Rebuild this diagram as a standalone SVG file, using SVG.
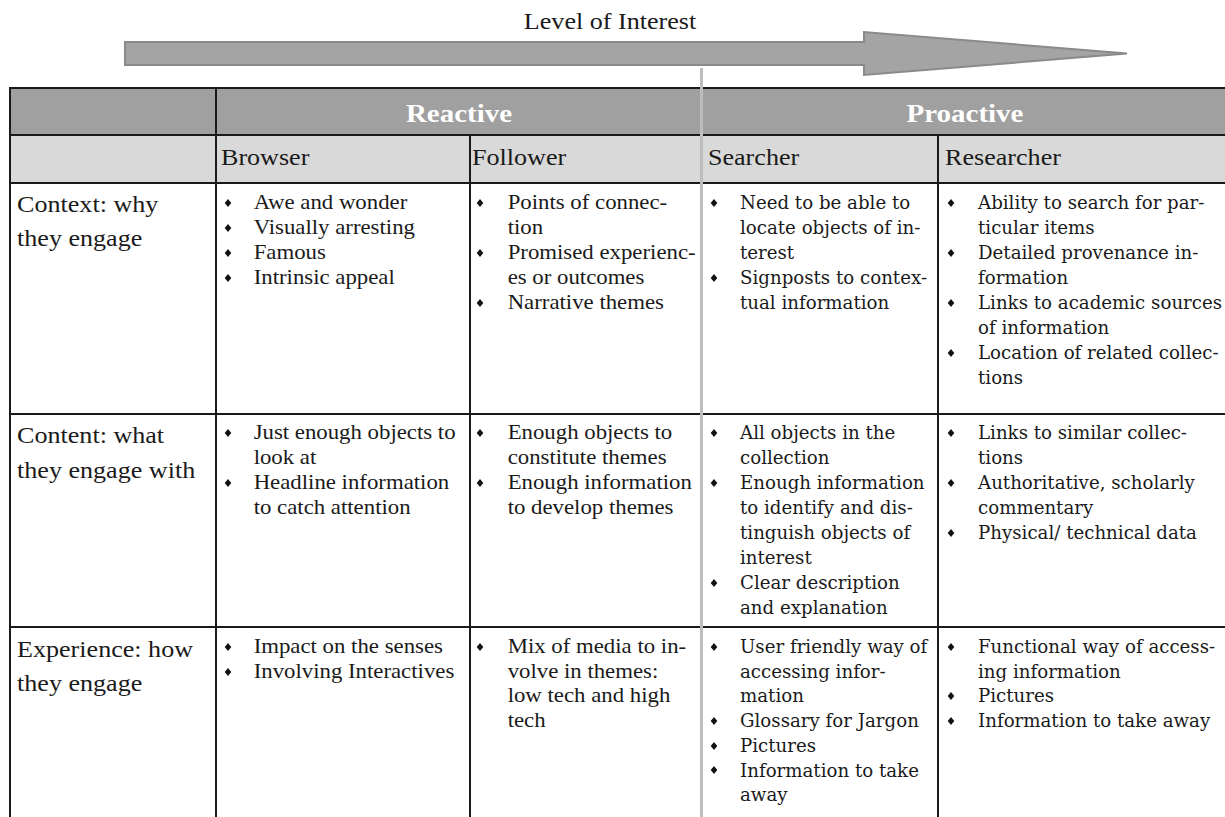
<svg xmlns="http://www.w3.org/2000/svg" width="1225" height="817" viewBox="0 0 1225 817">
<style>
.lt{font-family:"Liberation Serif","Times New Roman",serif;fill:#1a1a1a}
.lbl{font-size:22.5px}
.bl{font-size:20px}
.hd{font-size:22.5px}
.grp{font-size:25px;font-weight:bold;fill:#ffffff}
.rt{font-family:"DejaVu Serif",serif;font-size:18.2px;fill:#1a1a1a}
.grid line{stroke:#1a1a1a;stroke-width:2}
.bul{fill:#111}
</style>
<defs>
<path id="dia" d="M0,-4 L3.3,0 L0,4 L-3.3,0 Z"/>
</defs>
<rect width="1225" height="817" fill="#ffffff"/>

<g id="interest-arrow">
<polygon points="125,42 864,42 864,32 1127,53.5 864,75 864,65 125,65" fill="#a4a4a4" stroke="#8a8a8a" stroke-width="2"/>
<text class="lt hd" transform="scale(1.16 1)" x="525.9" y="29" text-anchor="middle">Level of Interest</text>
</g>

<g id="header-fills">
<rect x="10" y="88" width="1215" height="47" fill="#a0a0a0"/>
<rect x="10" y="135" width="1215" height="48" fill="#d9d9d9"/>
</g>

<g id="grid" class="grid">
<line x1="10" y1="88" x2="1225" y2="88"/>
<line x1="10" y1="135" x2="1225" y2="135"/>
<line x1="10" y1="183" x2="1225" y2="183"/>
<line x1="10" y1="414" x2="1225" y2="414"/>
<line x1="10" y1="627" x2="1225" y2="627"/>
<line x1="10" y1="87" x2="10" y2="817"/>
<line x1="216" y1="87" x2="216" y2="817"/>
<line x1="470" y1="135" x2="470" y2="817"/>
<line x1="938" y1="135" x2="938" y2="817"/>
</g>

<g id="group-headers">
<text class="lt grp" transform="scale(1.16 1)" x="395.7" y="122" text-anchor="middle">Reactive</text>
<text class="lt grp" transform="scale(1.16 1)" x="831.9" y="122" text-anchor="middle">Proactive</text>
</g>

<g id="column-headers" class="lt hd">
<text transform="scale(1.16 1)" x="190.5" y="165">Browser</text>
<text transform="scale(1.16 1)" x="406.9" y="165">Follower</text>
<text transform="scale(1.16 1)" x="610.3" y="165">Searcher</text>
<text transform="scale(1.16 1)" x="814.7" y="165">Researcher</text>
</g>

<g id="row-labels">
<text class="lt lbl" transform="scale(1.16 1)" x="14.66" y="212">Context: why<tspan x="14.66" dy="34">they engage</tspan></text>
<text class="lt lbl" transform="scale(1.16 1)" x="14.66" y="443">Content: what<tspan x="14.66" dy="35">they engage with</tspan></text>
<text class="lt lbl" transform="scale(1.16 1)" x="14.66" y="657">Experience: how<tspan x="14.66" dy="34">they engage</tspan></text>
</g>

<g id="browser-context">
<use href="#dia" class="bul" x="228" y="203"/><use href="#dia" class="bul" x="228" y="228"/><use href="#dia" class="bul" x="228" y="253"/><use href="#dia" class="bul" x="228" y="278"/>
<text class="lt bl" transform="scale(1.14 1)" x="222.5" y="209">Awe and wonder<tspan x="222.5" dy="25">Visually arresting</tspan><tspan x="222.5" dy="25">Famous</tspan><tspan x="222.5" dy="25">Intrinsic appeal</tspan></text>
</g>
<g id="follower-context">
<use href="#dia" class="bul" x="480" y="203"/><use href="#dia" class="bul" x="480" y="253"/><use href="#dia" class="bul" x="480" y="303"/>
<text class="lt bl" transform="scale(1.14 1)" x="445.3" y="209">Points of connec-<tspan x="445.3" dy="25">tion</tspan><tspan x="445.3" dy="25">Promised experienc-</tspan><tspan x="445.3" dy="25">es or outcomes</tspan><tspan x="445.3" dy="25">Narrative themes</tspan></text>
</g>
<g id="searcher-context">
<use href="#dia" class="bul" x="714" y="203"/><use href="#dia" class="bul" x="714" y="278"/>
<text class="rt" x="740" y="209">Need to be able to<tspan x="740" dy="25">locate objects of in-</tspan><tspan x="740" dy="25">terest</tspan><tspan x="740" dy="25">Signposts to contex-</tspan><tspan x="740" dy="25">tual information</tspan></text>
</g>
<g id="researcher-context">
<use href="#dia" class="bul" x="951" y="203"/><use href="#dia" class="bul" x="951" y="253"/><use href="#dia" class="bul" x="951" y="303"/><use href="#dia" class="bul" x="951" y="353"/>
<text class="rt" x="978" y="209">Ability to search for par-<tspan x="978" dy="25">ticular items</tspan><tspan x="978" dy="25">Detailed provenance in-</tspan><tspan x="978" dy="25">formation</tspan><tspan x="978" dy="25">Links to academic sources</tspan><tspan x="978" dy="25">of information</tspan><tspan x="978" dy="25">Location of related collec-</tspan><tspan x="978" dy="25">tions</tspan></text>
</g>

<g id="browser-content">
<use href="#dia" class="bul" x="228" y="433"/><use href="#dia" class="bul" x="228" y="483"/>
<text class="lt bl" transform="scale(1.14 1)" x="222.5" y="439">Just enough objects to<tspan x="222.5" dy="25">look at</tspan><tspan x="222.5" dy="25">Headline information</tspan><tspan x="222.5" dy="25">to catch attention</tspan></text>
</g>
<g id="follower-content">
<use href="#dia" class="bul" x="480" y="433"/><use href="#dia" class="bul" x="480" y="483"/>
<text class="lt bl" transform="scale(1.14 1)" x="445.3" y="439">Enough objects to<tspan x="445.3" dy="25">constitute themes</tspan><tspan x="445.3" dy="25">Enough information</tspan><tspan x="445.3" dy="25">to develop themes</tspan></text>
</g>
<g id="searcher-content">
<use href="#dia" class="bul" x="714" y="433"/><use href="#dia" class="bul" x="714" y="483"/><use href="#dia" class="bul" x="714" y="583"/>
<text class="rt" x="740" y="439">All objects in the<tspan x="740" dy="25">collection</tspan><tspan x="740" dy="25">Enough information</tspan><tspan x="740" dy="25">to identify and dis-</tspan><tspan x="740" dy="25">tinguish objects of</tspan><tspan x="740" dy="25">interest</tspan><tspan x="740" dy="25">Clear description</tspan><tspan x="740" dy="25">and explanation</tspan></text>
</g>
<g id="researcher-content">
<use href="#dia" class="bul" x="951" y="433"/><use href="#dia" class="bul" x="951" y="483"/><use href="#dia" class="bul" x="951" y="533"/>
<text class="rt" x="978" y="439">Links to similar collec-<tspan x="978" dy="25">tions</tspan><tspan x="978" dy="25">Authoritative, scholarly</tspan><tspan x="978" dy="25">commentary</tspan><tspan x="978" dy="25">Physical/ technical data</tspan></text>
</g>

<g id="browser-experience">
<use href="#dia" class="bul" x="228" y="647"/><use href="#dia" class="bul" x="228" y="672"/>
<text class="lt bl" transform="scale(1.14 1)" x="222.5" y="653">Impact on the senses<tspan x="222.5" dy="24.7">Involving Interactives</tspan></text>
</g>
<g id="follower-experience">
<use href="#dia" class="bul" x="480" y="647"/>
<text class="lt bl" transform="scale(1.14 1)" x="445.3" y="653">Mix of media to in-<tspan x="445.3" dy="24.7">volve in themes:</tspan><tspan x="445.3" dy="24.7">low tech and high</tspan><tspan x="445.3" dy="24.7">tech</tspan></text>
</g>
<g id="searcher-experience">
<use href="#dia" class="bul" x="714" y="647"/><use href="#dia" class="bul" x="714" y="721"/><use href="#dia" class="bul" x="714" y="746"/><use href="#dia" class="bul" x="714" y="770"/>
<text class="rt" x="740" y="653">User friendly way of<tspan x="740" dy="24.7">accessing infor-</tspan><tspan x="740" dy="24.7">mation</tspan><tspan x="740" dy="24.7">Glossary for Jargon</tspan><tspan x="740" dy="24.7">Pictures</tspan><tspan x="740" dy="24.7">Information to take</tspan><tspan x="740" dy="24.7">away</tspan></text>
</g>
<g id="researcher-experience">
<use href="#dia" class="bul" x="951" y="647"/><use href="#dia" class="bul" x="951" y="696"/><use href="#dia" class="bul" x="951" y="721"/>
<text class="rt" x="978" y="653">Functional way of access-<tspan x="978" dy="24.7">ing information</tspan><tspan x="978" dy="24.7">Pictures</tspan><tspan x="978" dy="24.7">Information to take away</tspan></text>
</g>

<g id="divider">
<line x1="701.5" y1="68" x2="701.5" y2="817" stroke="#bdbdbd" stroke-width="3"/>
</g>
</svg>
